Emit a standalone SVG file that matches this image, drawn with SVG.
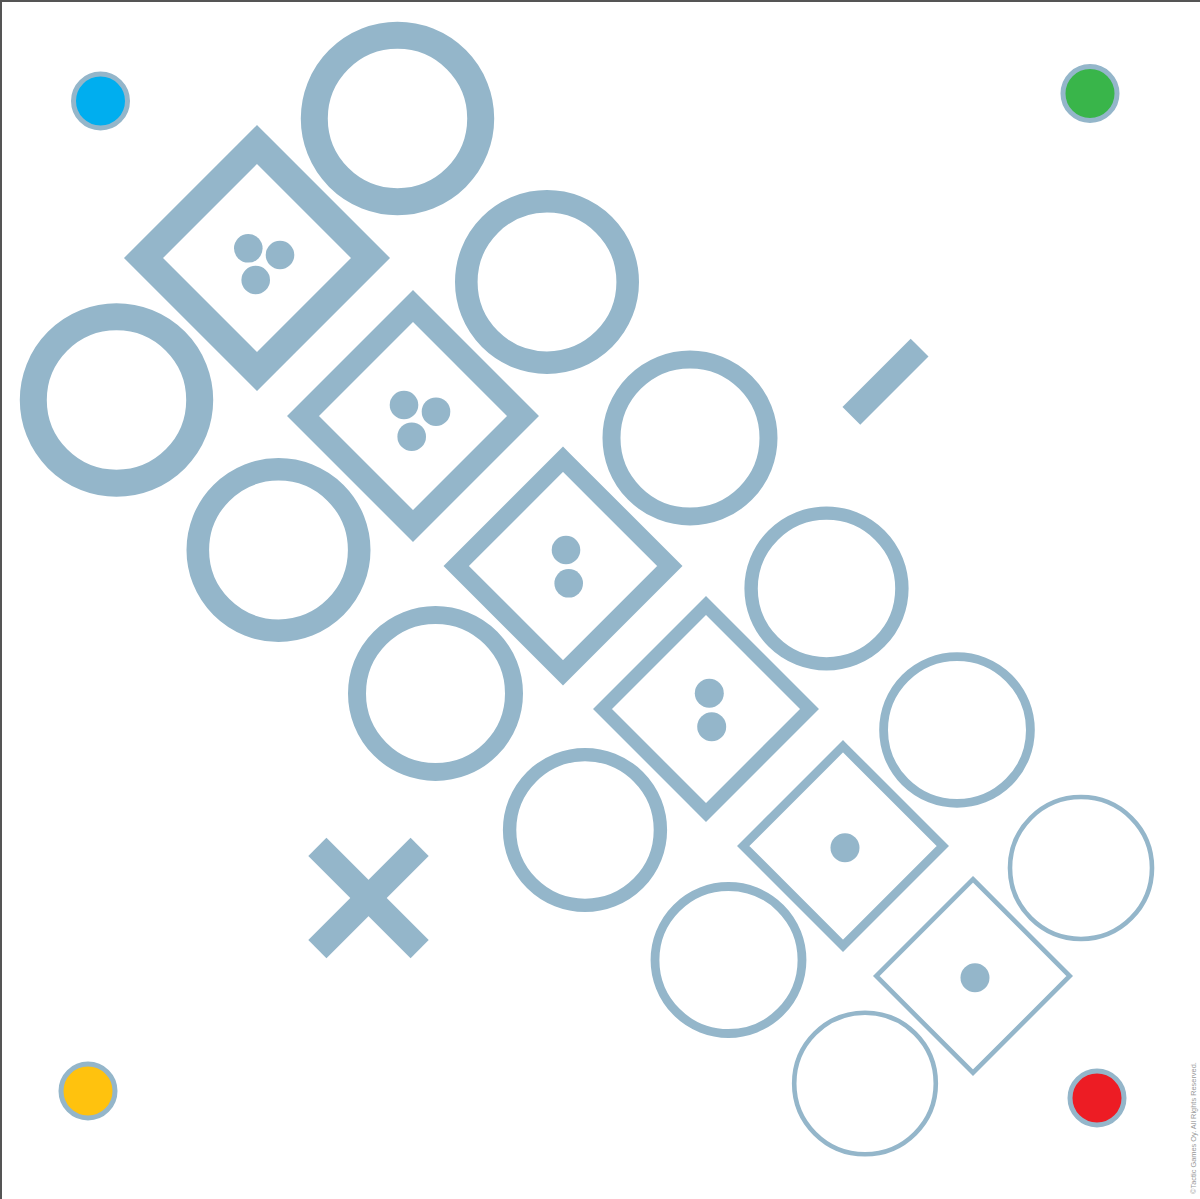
<svg xmlns="http://www.w3.org/2000/svg" width="1200" height="1199" viewBox="0 0 1200 1199">
<style>
.ring{fill:none;stroke:#94B6CA}
.dia{fill:none;stroke:#94B6CA;stroke-linejoin:miter}
.pip{fill:#94B6CA}
.corner{stroke:#94B6CA;stroke-width:5}
.copy{font-family:"Liberation Sans",Arial,sans-serif;font-size:7.4px;fill:#9a9a9a}
</style>
<rect x="0" y="0" width="1200" height="1199" fill="#ffffff"/>
<g id="border" stroke="#555555" stroke-width="2">
<line x1="0" y1="1" x2="1200" y2="1"/>
<line x1="1" y1="0" x2="1" y2="1199"/>
</g>
<g id="corners">
<circle id="dot-blue" class="corner" cx="100.5" cy="101" r="27" fill="#00AEEF"/>
<circle id="dot-green" class="corner" cx="1090" cy="93.5" r="27" fill="#39B54A"/>
<circle id="dot-yellow" class="corner" cx="88" cy="1091" r="27" fill="#FFC20E"/>
<circle id="dot-red" class="corner" cx="1097" cy="1098" r="27" fill="#ED1C24"/>
</g>
<g id="circles">
<circle id="c1" class="ring" cx="397.5" cy="118.5" r="83.2" stroke-width="27"/>
<circle id="c3" class="ring" cx="116.5" cy="400" r="83.2" stroke-width="27"/>
<circle id="c2" class="ring" cx="547" cy="282" r="80.7" stroke-width="22.6"/>
<circle id="c5" class="ring" cx="278.5" cy="550" r="80.7" stroke-width="22.6"/>
<circle id="c4" class="ring" cx="690" cy="438" r="78.5" stroke-width="18"/>
<circle id="c7" class="ring" cx="435.5" cy="693.5" r="78.5" stroke-width="18"/>
<circle id="c6" class="ring" cx="826.5" cy="588.5" r="75.4" stroke-width="13.4"/>
<circle id="c9" class="ring" cx="585" cy="830" r="75.4" stroke-width="13.4"/>
<circle id="c8" class="ring" cx="957" cy="730" r="73.4" stroke-width="8.8"/>
<circle id="c11" class="ring" cx="728.5" cy="960" r="73.5" stroke-width="8.8"/>
<circle id="c10" class="ring" cx="1081" cy="868" r="71" stroke-width="4.6"/>
<circle id="c12" class="ring" cx="865" cy="1083.5" r="70.8" stroke-width="4.6"/>
</g>
<g id="d1">
<polygon class="dia" stroke-width="27.6" points="257,144.5 370.5,258 257,371.5 143.5,258"/>
<circle class="pip" cx="248.3" cy="248.3" r="14.3"/>
<circle class="pip" cx="280" cy="255" r="14.3"/>
<circle class="pip" cx="255.7" cy="280" r="14.3"/>
</g>
<g id="d2">
<polygon class="dia" stroke-width="22.6" points="413,306 523,416 413,526 303,416"/>
<circle class="pip" cx="404" cy="405" r="14.3"/>
<circle class="pip" cx="436" cy="411.7" r="14.3"/>
<circle class="pip" cx="411.7" cy="436.7" r="14.3"/>
</g>
<g id="d3">
<polygon class="dia" stroke-width="18" points="563,459.25 669.75,566 563,672.75 456.25,566"/>
<circle class="pip" cx="566" cy="550" r="14.3"/>
<circle class="pip" cx="568.7" cy="583.3" r="14.3"/>
</g>
<g id="d4">
<polygon class="dia" stroke-width="13.4" points="706,605.5 809.5,709 706,812.5 602.5,709"/>
<circle class="pip" cx="709.3" cy="693.3" r="14.5"/>
<circle class="pip" cx="711.7" cy="726.7" r="14.5"/>
</g>
<g id="d5">
<polygon class="dia" stroke-width="8.8" points="843,746.25 942.75,846 843,945.75 743.25,846"/>
<circle class="pip" cx="845" cy="847.7" r="14.5"/>
</g>
<g id="d6">
<polygon class="dia" stroke-width="4.6" points="973,879.25 1069.75,976 973,1072.75 876.25,976"/>
<circle class="pip" cx="975" cy="977.7" r="14.5"/>
</g>
<g id="minus">
<rect class="pip" x="-48.25" y="-12.6" width="96.5" height="25.2" transform="translate(885.5 381.8) rotate(-45)"/>
</g>
<g id="cross" transform="translate(368.5 898)">
<rect class="pip" x="-72.3" y="-12.8" width="144.6" height="25.6" transform="rotate(45)"/>
<rect class="pip" x="-72.3" y="-12.8" width="144.6" height="25.6" transform="rotate(-45)"/>
</g>
<text class="copy" transform="translate(1196 1194) rotate(-90)">©Tactic Games Oy. All Rights Reserved.</text>
</svg>
